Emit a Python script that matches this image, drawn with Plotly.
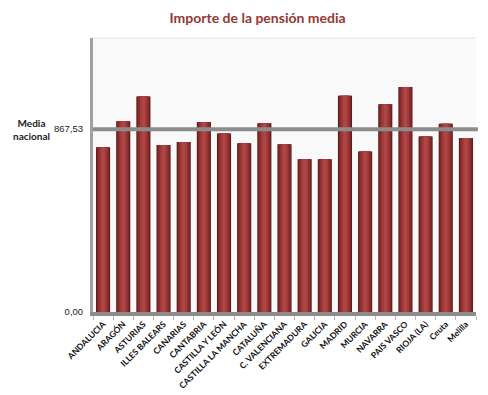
import plotly.graph_objects as go

regiones = ["ANDALUCIA", "ARAGÓN", "ASTURIAS", "ILLES BALEARS", "CANARIAS", "CANTABRIA",
            "CASTILLA Y LEÓN", "CASTILLA LA MANCHA", "CATALUÑA", "C. VALENCIANA",
            "EXTREMADURA", "GALICIA", "MADRID", "MURCIA", "NAVARRA", "PAIS VASCO",
            "RIOJA (LA)", "Ceuta", "Melilla"]
pension = [782, 905, 1022, 792, 806, 901, 847, 801, 895, 796,
           725, 725, 1026, 762, 986, 1067, 833, 893, 825]
media_nacional = 867.53
y_ticks = [0, media_nacional]
y_ticktext = ["0,00", "867,53"]

fig = go.Figure()
# cylinder-like shading: overlaid bars of decreasing width
layers = [(0.70, "#5c1a1a"), (0.62, "#7a2626"), (0.50, "#8f2f2f"), (0.34, "#a33b3b"), (0.16, "#ad4646")]
for w, c in layers:
    fig.add_trace(go.Bar(x=regiones, y=pension, width=w, marker=dict(color=c, line=dict(width=0)),
                         hoverinfo="x+y", showlegend=False))

fig.add_shape(type="line", xref="paper", yref="y", x0=0, x1=1.005, y0=media_nacional, y1=media_nacional,
              line=dict(color="#8c8c8c", width=4), layer="above")
fig.add_shape(type="line", xref="paper", yref="paper", x0=0, x1=1, y0=1, y1=1,
              line=dict(color="#e6e6e6", width=1))

fig.add_annotation(xref="paper", yref="y", x=-0.16, y=media_nacional, text="<b>Media<br>nacional</b>",
                   showarrow=False, xanchor="center", yanchor="middle",
                   font=dict(family="Lato, Open Sans, sans-serif", size=10, color="#222"))

fig.update_layout(
    width=480, height=387,
    margin=dict(l=85, r=12, t=30, b=83),
    paper_bgcolor="white", plot_bgcolor="#f9f9f9",
    barmode="overlay",
    title=dict(text="<b>Importe de la pensión media</b>", x=0.52, xanchor="center", y=0.974, yanchor="middle",
               font=dict(family="Lato, Open Sans, sans-serif", size=14, color="#953735")),
    xaxis=dict(tickangle=-45, tickfont=dict(family="Lato, Open Sans, sans-serif", size=8.5, color="#111"),
               showline=True, linecolor="#8c8c8c", linewidth=4, ticks="outside", tickson="boundaries",
               ticklen=4, tickcolor="#bbbbbb", showgrid=False, automargin=False,
               tickvals=regiones, ticktext=["<b>%s</b>" % r for r in regiones]),
    yaxis=dict(range=[0, 1300], tickvals=y_ticks, ticktext=y_ticktext, showgrid=False,
               showline=True, linecolor="#a0a0a0", linewidth=3, zeroline=False, automargin=False,
               ticklabelstandoff=5,
               tickfont=dict(family="Liberation Sans, Arial, sans-serif", size=9.5, color="#222")),
)

fig.write_html("out.html")
